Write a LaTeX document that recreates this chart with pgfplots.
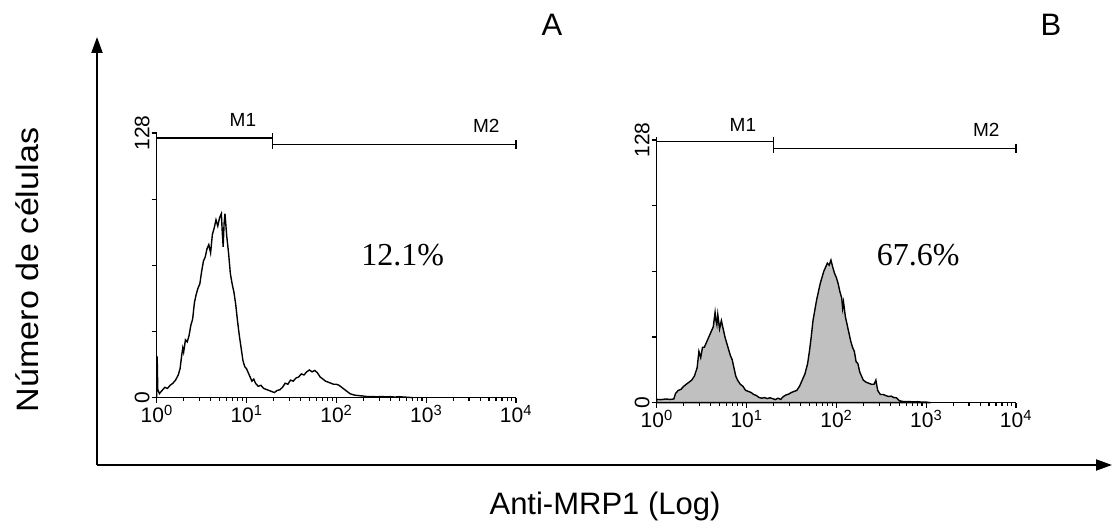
\documentclass[border=0pt]{standalone}
\usepackage{fontspec}
\setmainfont{Liberation Sans}
\newfontfamily\timesfont{Liberation Serif}
\usepackage{pgfplots}
\pgfplotsset{compat=1.18}
\usetikzlibrary{arrows.meta}
\definecolor{histfill}{RGB}{192,192,192}

% one FACS panel: log10 channel on x (0..4), counts 0..128 on y
\pgfplotsset{facs/.style={
  scale only axis, width=359.3pt, anchor=south west,
  xmin=0, xmax=4, ymin=0, ymax=128,
  axis x line*=bottom, axis y line*=left,
  axis line style={line width=1.5pt, black},
  tick align=outside, tick pos=left,
  major tick length=5pt, minor tick length=3pt,
  every tick/.style={black, line width=1.2pt},
  xtick={0,1,2,3,4},
  xticklabels={10\textsuperscript{0},10\textsuperscript{1},10\textsuperscript{2},10\textsuperscript{3},10\textsuperscript{4}},
  minor xtick={0.301,0.477,0.602,0.699,0.778,0.845,0.903,0.954,
    1.301,1.477,1.602,1.699,1.778,1.845,1.903,1.954,
    2.301,2.477,2.602,2.699,2.778,2.845,2.903,2.954,
    3.301,3.477,3.602,3.699,3.778,3.845,3.903,3.954},
  ytick={0,32,64,96,128}, yticklabels={0,,,,128},
  tick label style={font=\fontsize{21}{23}\selectfont},
  yticklabel style={rotate=90, anchor=south, inner sep=2pt},
  xticklabel style={inner sep=2pt},
  clip=false
}}

\begin{document}
\begin{tikzpicture}[x=1pt,y=1pt]
  \path[use as bounding box] (0,0) rectangle (1112,522);

  % outer frame arrows and labels
  \draw[line width=2pt, -{Triangle[length=16pt,width=11pt]}] (97,57) -- (97,485);
  \draw[line width=2pt, -{Triangle[length=16pt,width=11pt]}] (97,57) -- (1112,57);
  \node[rotate=90] at (27,252) {\scalebox{1.1}[1]{\fontsize{31}{36}\selectfont Número de células}};
  \node[anchor=base] at (605,7) {\fontsize{31}{36}\selectfont Anti-MRP1 (Log)};
  \node at (552,497) {\fontsize{31}{36}\selectfont A};
  \node at (1051,497) {\fontsize{31}{36}\selectfont B};

  % panel A
  \begin{axis}[facs, at={(156.7pt,124.3pt)}, height=264.7pt]
    \addplot[black, line width=1.4pt] coordinates {
      (0.000,0) (0.005,20) (0.012,4) (0.03,2) (0.06,3.5) (0.09,5) (0.12,4.5)
      (0.15,6) (0.18,7) (0.21,8.5) (0.24,11) (0.26,14) (0.28,21) (0.29,24)
      (0.30,22) (0.32,28) (0.34,27) (0.36,30) (0.38,35) (0.40,38) (0.42,46)
      (0.44,50) (0.46,53) (0.48,55) (0.50,61) (0.52,66) (0.54,68) (0.56,72)
      (0.58,74) (0.60,70) (0.62,79) (0.64,82) (0.66,86) (0.68,83) (0.70,87)
      (0.72,89) (0.73,80) (0.74,73) (0.75,84) (0.76,89) (0.78,78) (0.80,70)
      (0.82,60) (0.84,55) (0.86,51) (0.88,45) (0.90,37) (0.92,30) (0.94,24)
      (0.96,18) (0.98,15) (1.00,14) (1.02,12) (1.04,10) (1.06,8) (1.08,9)
      (1.10,7) (1.13,5.5) (1.16,6) (1.19,4.5) (1.22,4) (1.25,3.5) (1.28,3)
      (1.31,2.5) (1.34,3.5) (1.37,3.8) (1.40,5) (1.43,7) (1.46,6.5) (1.49,8.5)
      (1.52,8) (1.55,9.5) (1.58,10) (1.61,11.5) (1.64,11) (1.67,12.5) (1.70,13.4)
      (1.73,12.5) (1.76,13.2) (1.79,12) (1.82,10) (1.85,9) (1.88,8) (1.91,7.5)
      (1.94,7) (1.97,6.5) (2.00,6.5) (2.03,6) (2.06,5) (2.09,4) (2.12,3)
      (2.15,2) (2.18,1.5) (2.21,1.2) (2.25,1) (2.30,0.8) (2.35,0.5) (2.40,0.6)
      (2.45,0.4) (2.50,0.6) (2.55,0.4) (2.60,0.5) (2.65,0.3) (2.70,0.5)
      (2.75,0.3) (2.80,0.2) (2.85,0)
    };
    % gates
    \addplot[black, line width=1.2pt, mark=|, mark size=4.5pt, mark options={line width=1.2pt}]
      coordinates {(0,125.6) (1.29,125.6)};
    \addplot[black, line width=1.2pt, mark=|, mark size=4.5pt, mark options={line width=1.2pt}]
      coordinates {(1.29,122.5) (4,122.5)};
    \node at (axis cs:0.96,134.3) {\fontsize{19}{21}\selectfont M1};
    \node at (axis cs:3.67,131.4) {\fontsize{19}{21}\selectfont M2};
    \node at (axis cs:2.74,69) {\timesfont\fontsize{32}{36}\selectfont 12.1\%};
  \end{axis}

  % panel B
  \begin{axis}[facs, at={(656.7pt,119.3pt)}, height=262.7pt]
    \addplot[draw=black, fill=histfill, line width=1.4pt] coordinates {
      (0.00,1.6) (0.05,1.5) (0.10,1.8) (0.15,1.6) (0.19,1.8) (0.21,4.5) (0.24,6)
      (0.27,6.5) (0.30,8) (0.33,9) (0.36,10) (0.39,11) (0.42,13) (0.45,17)
      (0.47,25) (0.49,22) (0.51,27) (0.53,27) (0.55,29) (0.57,31) (0.59,33)
      (0.61,35) (0.63,37) (0.65,44) (0.66,40) (0.67,38) (0.68,43) (0.70,36)
      (0.72,40) (0.74,36) (0.76,32) (0.78,29) (0.80,26) (0.82,23) (0.84,21)
      (0.86,17) (0.88,13) (0.90,11) (0.93,9) (0.96,8) (0.99,6) (1.02,5.5)
      (1.05,5) (1.08,4) (1.11,3.5) (1.14,2.5) (1.17,2.2) (1.20,2.5) (1.23,2)
      (1.26,2.4) (1.29,2.0) (1.32,1.5) (1.35,2.2) (1.38,1.6) (1.41,3) (1.44,3.8)
      (1.47,4.2) (1.50,5) (1.53,5.5) (1.56,6) (1.59,8) (1.62,11) (1.65,14)
      (1.68,19) (1.70,25) (1.72,32) (1.74,40) (1.76,45) (1.78,50) (1.80,54)
      (1.82,58) (1.84,61) (1.86,64) (1.88,66) (1.90,68) (1.92,67) (1.94,69.5)
      (1.96,66) (1.98,63) (2.00,61) (2.02,58) (2.04,54) (2.06,51) (2.07,46)
      (2.08,49) (2.10,42) (2.12,38) (2.14,34) (2.16,30) (2.18,27) (2.20,25)
      (2.22,20) (2.24,19) (2.26,15) (2.28,13) (2.30,11) (2.33,10) (2.36,9.5)
      (2.39,9) (2.42,9) (2.44,11) (2.46,6) (2.49,4) (2.52,4) (2.55,3.5)
      (2.58,3) (2.61,3.2) (2.64,2.5) (2.67,2.4) (2.70,1.0) (2.75,0.5)
      (2.80,0.6) (2.85,0.4) (2.90,0.5) (2.95,0.3) (3.00,0.3) (3.05,0)
    } \closedcycle;
    \addplot[black, line width=1.2pt, mark=|, mark size=4.5pt, mark options={line width=1.2pt}]
      coordinates {(0,127.2) (1.30,127.2)};
    \addplot[black, line width=1.2pt, mark=|, mark size=4.5pt, mark options={line width=1.2pt}]
      coordinates {(1.30,124) (4,124)};
    \node at (axis cs:0.96,135.3) {\fontsize{19}{21}\selectfont M1};
    \node at (axis cs:3.67,132.9) {\fontsize{19}{21}\selectfont M2};
    \node at (axis cs:2.91,72) {\timesfont\fontsize{32}{36}\selectfont 67.6\%};
  \end{axis}
\end{tikzpicture}
\end{document}
